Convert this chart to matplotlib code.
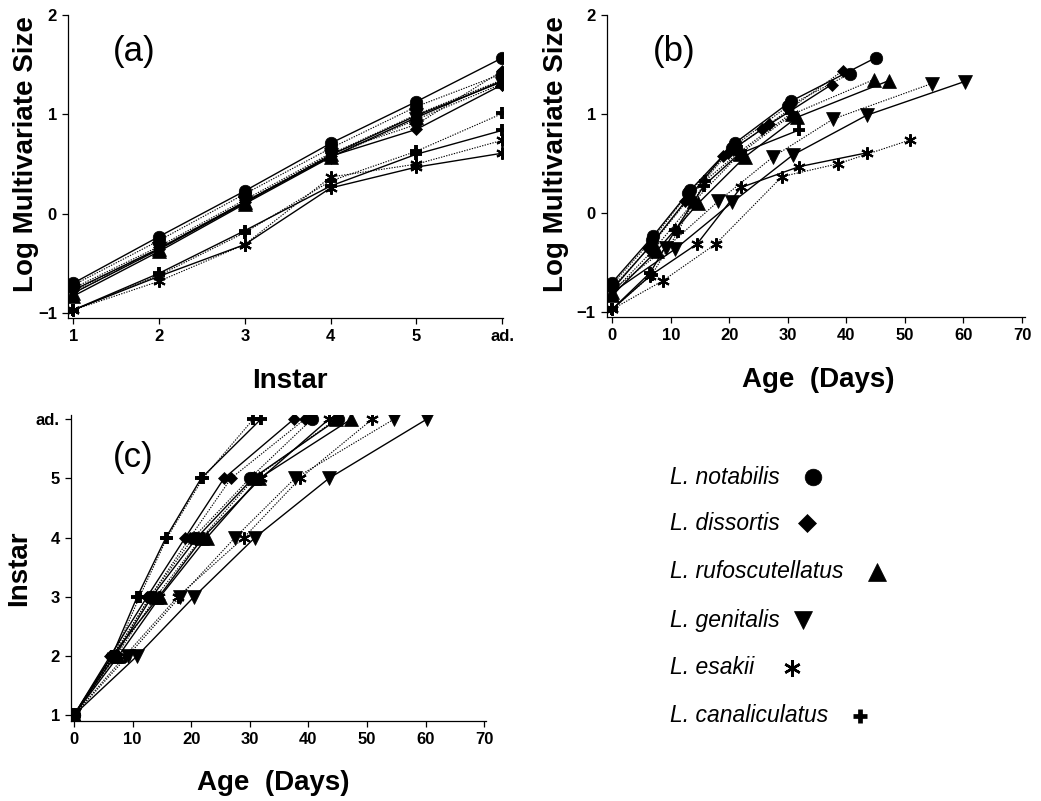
import numpy as np
import matplotlib
matplotlib.use('Agg')
import matplotlib.pyplot as plt

plt.rcParams['font.family'] = ['Liberation Sans', 'DejaVu Sans']

#### data: age (days) at start of each instar and log multivariate size
instars = [1, 2, 3, 4, 5, 6]
instar_labels = ['1', '2', '3', '4', '5', 'ad.']

notabilis_age_s = [0, 7.0, 13.3, 21.0, 30.5, 45.0]
notabilis_size_s = [-0.70, -0.23, 0.23, 0.71, 1.13, 1.57]
notabilis_age_d = [0, 6.8, 13.0, 20.4, 30.0, 40.6]
notabilis_size_d = [-0.72, -0.27, 0.20, 0.66, 1.08, 1.41]

dissortis_age_s = [0, 6.2, 12.5, 19.0, 25.6, 37.5]
dissortis_size_s = [-0.77, -0.35, 0.12, 0.58, 0.85, 1.30]
dissortis_age_d = [0, 6.6, 13.0, 19.8, 26.8, 39.4]
dissortis_size_d = [-0.75, -0.33, 0.14, 0.61, 0.90, 1.44]

rufoscutellatus_age_s = [0, 7.6, 14.7, 22.7, 31.6, 47.3]
rufoscutellatus_size_s = [-0.83, -0.38, 0.10, 0.57, 0.97, 1.34]
rufoscutellatus_age_d = [0, 7.2, 14.0, 21.8, 30.8, 44.7]
rufoscutellatus_size_d = [-0.80, -0.36, 0.12, 0.60, 1.00, 1.35]

genitalis_age_s = [0, 10.8, 20.5, 30.9, 43.5, 60.2]
genitalis_size_s = [-0.80, -0.36, 0.11, 0.59, 0.99, 1.33]
genitalis_age_d = [0, 9.2, 18.1, 27.5, 37.7, 54.6]
genitalis_size_d = [-0.78, -0.35, 0.12, 0.57, 0.95, 1.31]

esakii_age_s = [0, 6.5, 14.5, 22.0, 31.9, 43.5]
esakii_size_s = [-0.97, -0.63, -0.31, 0.26, 0.47, 0.61]
esakii_age_d = [0, 8.7, 17.7, 29.0, 38.6, 50.9]
esakii_size_d = [-0.97, -0.68, -0.31, 0.37, 0.50, 0.74]

canaliculatus_age_s = [0, 6.5, 10.8, 15.7, 21.7, 31.9]
canaliculatus_size_s = [-0.97, -0.60, -0.17, 0.28, 0.60, 0.84]
canaliculatus_age_d = [0, 6.8, 11.2, 15.9, 22.0, 30.6]
canaliculatus_size_d = [-0.97, -0.62, -0.19, 0.33, 0.63, 1.01]

species = ['L. notabilis', 'L. dissortis', 'L. rufoscutellatus',
           'L. genitalis', 'L. esakii', 'L. canaliculatus']

ASTER = (6, 2, 0)
styles = {
    'L. notabilis': dict(marker='o', ms=9.0, mew=0.5),
    'L. dissortis': dict(marker='D', ms=6.3, mew=0.5),
    'L. rufoscutellatus': dict(marker='^', ms=10, mew=0.5),
    'L. genitalis': dict(marker='v', ms=10, mew=0.5),
    'L. esakii': dict(marker=ASTER, ms=9, mew=1.5),
    'L. canaliculatus': dict(marker='+', ms=9, mew=2.8),
}

series = [
    ('L. notabilis', notabilis_age_s, notabilis_size_s, notabilis_age_d, notabilis_size_d),
    ('L. dissortis', dissortis_age_s, dissortis_size_s, dissortis_age_d, dissortis_size_d),
    ('L. rufoscutellatus', rufoscutellatus_age_s, rufoscutellatus_size_s, rufoscutellatus_age_d, rufoscutellatus_size_d),
    ('L. genitalis', genitalis_age_s, genitalis_size_s, genitalis_age_d, genitalis_size_d),
    ('L. esakii', esakii_age_s, esakii_size_s, esakii_age_d, esakii_size_d),
    ('L. canaliculatus', canaliculatus_age_s, canaliculatus_size_s, canaliculatus_age_d, canaliculatus_size_d),
]

SOLID = dict(color='black', lw=1.0, ls='-', mfc='black', mec='black')
DOTTED = dict(color='black', lw=0.8, ls=(0, (1.2, 1.2)), mfc='black', mec='black')

LABEL_FONT = dict(weight='bold', size=20)
PANEL_FONT = dict(size=25)


def style_axes(ax):
    for s in ['top', 'right']:
        ax.spines[s].set_visible(False)
    for s in ['left', 'bottom']:
        ax.spines[s].set_linewidth(0.9)
    ax.tick_params(direction='out', length=4, width=0.9, labelsize=12, pad=4)
    for lab in ax.get_xticklabels() + ax.get_yticklabels():
        lab.set_fontweight('bold')


fig = plt.figure(figsize=(10.41, 8.01), dpi=100)

ax_a = fig.add_axes([0.0653, 0.603, 0.418, 0.378])
ax_b = fig.add_axes([0.583, 0.604, 0.4015, 0.377])
ax_c = fig.add_axes([0.0682, 0.0999, 0.3987, 0.382])

for name, age_s, size_s, age_d, size_d in series:
    st = styles[name]
    ax_a.plot(instars, size_d, **DOTTED, **st)
    ax_a.plot(instars, size_s, **SOLID, **st)
    ax_b.plot(age_d, size_d, **DOTTED, **st)
    ax_b.plot(age_s, size_s, **SOLID, **st)
    ax_c.plot(age_d, instars, **DOTTED, **st)
    ax_c.plot(age_s, instars, **SOLID, **st)

# (a)
ax_a.set_xlim(0.94, 6.01)
ax_a.set_ylim(-1.05, 2.0)
ax_a.set_xticks(instars)
ax_a.set_xticklabels(instar_labels)
ax_a.set_yticks([-1, 0, 1, 2])
ax_a.set_yticklabels(['\u22121', '0', '1', '2'])
ax_a.set_xlabel('Instar', **LABEL_FONT)
ax_a.set_ylabel('Log Multivariate Size', **LABEL_FONT)
ax_a.xaxis.set_label_coords(0.51, -0.165)
ax_a.yaxis.set_label_coords(-0.066, 0.54)
ax_a.text(0.152, 0.88, '(a)', transform=ax_a.transAxes, ha='center', va='center', **PANEL_FONT)

# (b)
ax_b.set_xlim(-0.9, 70.5)
ax_b.set_ylim(-1.05, 2.0)
ax_b.set_xticks(np.arange(0, 71, 10))
ax_b.set_yticks([-1, 0, 1, 2])
ax_b.set_yticklabels(['\u22121', '0', '1', '2'])
ax_b.set_xlabel('Age  (Days)', **LABEL_FONT)
ax_b.set_ylabel('Log Multivariate Size', **LABEL_FONT)
ax_b.xaxis.set_label_coords(0.506, -0.165)
ax_b.yaxis.set_label_coords(-0.09, 0.54)
ax_b.text(0.16, 0.88, '(b)', transform=ax_b.transAxes, ha='center', va='center', **PANEL_FONT)

# (c)
ax_c.set_xlim(-0.5, 70.3)
ax_c.set_ylim(0.9, 6.07)
ax_c.set_xticks(np.arange(0, 71, 10))
ax_c.set_yticks(instars)
ax_c.set_yticklabels(instar_labels)
ax_c.set_xlabel('Age  (Days)', **LABEL_FONT)
ax_c.set_ylabel('Instar', **LABEL_FONT)
ax_c.xaxis.set_label_coords(0.487, -0.16)
ax_c.yaxis.set_label_coords(-0.094, 0.5)
ax_c.text(0.149, 0.86, '(c)', transform=ax_c.transAxes, ha='center', va='center', **PANEL_FONT)

for ax in (ax_a, ax_b, ax_c):
    style_axes(ax)

# legend drawn in pixel coordinates
ax_leg = fig.add_axes([0, 0, 1, 1])
ax_leg.set_xlim(0, 1041)
ax_leg.set_ylim(801, 0)
ax_leg.axis('off')
leg_y = [477, 523, 572, 620, 668, 716]
leg_mx = [813, 807, 877, 803, 792, 860]
leg_ms = {'L. notabilis': 12, 'L. dissortis': 9, 'L. rufoscutellatus': 13,
          'L. genitalis': 13, 'L. esakii': 12, 'L. canaliculatus': 10.5}
for name, y, mx in zip(species, leg_y, leg_mx):
    ax_leg.text(670, y, name, ha='left', va='center', style='italic', fontsize=16.5)
    st = dict(styles[name])
    st['ms'] = leg_ms[name]
    if name == 'L. canaliculatus':
        st['mew'] = 3.4
    if name == 'L. esakii':
        st['mew'] = 1.8
    ax_leg.plot([mx], [y], ls='none', color='black', mfc='black', mec='black', **st)

fig.savefig('out.png', dpi=100)
